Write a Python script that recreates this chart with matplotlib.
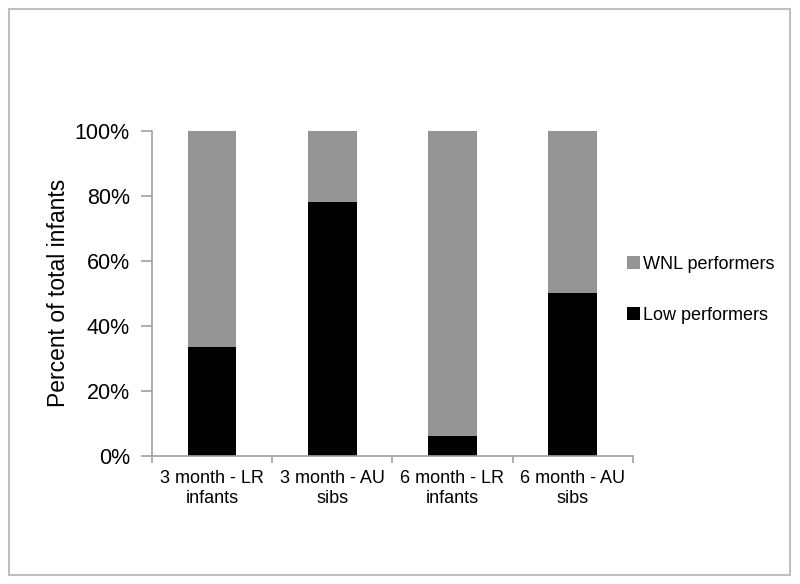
import matplotlib.pyplot as plt
from matplotlib.patches import Rectangle
from matplotlib.ticker import FuncFormatter

# data
categories = ['3 month - LR\ninfants', '3 month - AU\nsibs', '6 month - LR\ninfants', '6 month - AU\nsibs']
low = [33.3, 78.0, 6.2, 50.0]
wnl = [100 - v for v in low]

plt.rcParams['font.family'] = ['Liberation Sans', 'DejaVu Sans']

fig = plt.figure(figsize=(8, 5.84), dpi=100)
ax = fig.add_axes([0.19, 0.2197, 0.601, 0.5565])

x = range(len(categories))
b1 = ax.bar(x, low, width=0.405, color='black', label='Low performers')
b2 = ax.bar(x, wnl, bottom=low, width=0.405, color='#959595', label='WNL performers')

ax.set_xlim(-0.5, 3.5)
ax.set_ylim(0, 100)
ax.set_yticks([0, 20, 40, 60, 80, 100])
ax.yaxis.set_major_formatter(FuncFormatter(lambda v, p: '%d%%' % v))
ax.set_xticks([-0.5, 0.5, 1.5, 2.5, 3.5])
ax.set_xticklabels([])
ax.set_xticks(list(x), minor=True)
ax.set_xticklabels(categories, minor=True, fontsize=13, linespacing=1.25)
ax.tick_params(axis='x', which='minor', length=0, pad=10)
ax.tick_params(axis='x', which='major', length=5, color='#A0A0A0', width=1.2)
ax.tick_params(axis='y', length=8, color='#A0A0A0', width=1.2, labelsize=15.5, pad=8)

for s in ['top', 'right']:
    ax.spines[s].set_visible(False)
for s in ['left', 'bottom']:
    ax.spines[s].set_color('#A0A0A0')
    ax.spines[s].set_linewidth(1.2)

ax.set_ylabel('Percent of total infants', fontsize=16.5, labelpad=3)

# legend: WNL on top
ax.legend([b2, b1], ['WNL performers', 'Low performers'], loc='center left',
          bbox_to_anchor=(0.955, 0.51), frameon=False, fontsize=13,
          handlelength=0.7, handleheight=0.7, handletextpad=0.15, labelspacing=1.9)

# outer frame
fig.patches.append(Rectangle((8.5 / 800, 1 - 574.5 / 584), 781 / 800, 566 / 584,
                             transform=fig.transFigure, fill=False,
                             edgecolor='#BFBFBF', linewidth=1.5))

fig.savefig('out.png', dpi=100)
